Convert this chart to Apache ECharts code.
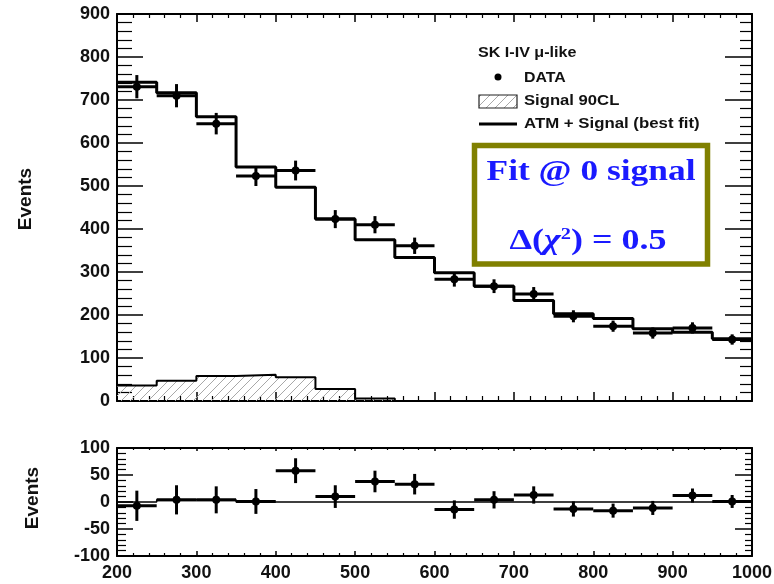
<!DOCTYPE html>
<html><head><meta charset="utf-8">
<script src="https://cdn.jsdelivr.net/npm/echarts@6/dist/echarts.min.js"></script>
<style>html,body{margin:0;padding:0;background:#fff}#c{width:774px;height:584px}</style>
</head><body><div id="c"></div>
<script>
// ---- data ----
const binEdges = [200,250,300,350,400,450,500,550,600,650,700,750,800,850,900,950,1000];
const dataEvents = [731,710,645,523,536,423,410,361,283,267,249,197,174,158,170,143];
const dataErrors = [27,27,25,23,23,21,20,19,17,16,16,14,13,13,13,12];
const bestFit = [741,717,661,544,497,423,375,334,298,267,234,203,192,168,160,145];
const signal90CL = [36,47,58,61,55,28,6,0,0,0,0,0,0,0,0,0];
const residual = [-7,4,4,1,58,10,38,33,-14,4,13,-13,-16,-11,12,1];
const residualErrors = [28,27,25,23,23,21,20,19,17,16,16,14,13,13,13,12];
const fitResidual = [0,4,4,0,0,0,0,0,0,0,0,0,0,0,0,0];
const xRange = [200,1000];
const topRange = [0,900];
const bottomRange = [-100,100];

const FONT = 'Liberation Sans, Arial, sans-serif';
const SERIF = 'Liberation Serif, Times New Roman, serif';

function stepData(vals){
  const d = vals.map((v,i)=>[binEdges[i], v]);
  d.push([binEdges[binEdges.length-1], vals[vals.length-1]]);
  return d;
}
function crossData(vals, errs){
  return vals.map((v,i)=>[binEdges[i], binEdges[i+1], v, errs[i]]);
}
function renderCross(params, api){
  const x0=api.value(0), x1=api.value(1), y=api.value(2), e=api.value(3);
  const xm=(x0+x1)/2;
  const pL=api.coord([x0,y]), pR=api.coord([x1,y]);
  const pT=api.coord([xm,y+e]), pB=api.coord([xm,y-e]);
  const st={stroke:'#000', lineWidth:3};
  return {type:'group', children:[
    {type:'line', shape:{x1:pL[0],y1:pL[1],x2:pR[0],y2:pR[1]}, style:st},
    {type:'line', shape:{x1:pT[0],y1:pT[1],x2:pB[0],y2:pB[1]}, style:st},
    {type:'circle', shape:{cx:(pL[0]+pR[0])/2, cy:pL[1], r:4}, style:{fill:'#000'}}
  ]};
}
function hatchCanvas(){
  const c=document.createElement('canvas'); c.width=9; c.height=9;
  const g=c.getContext('2d'); g.strokeStyle='#a8a8a8'; g.lineWidth=1;
  g.beginPath();
  g.moveTo(0,9); g.lineTo(9,0);
  g.moveTo(-3,3); g.lineTo(3,-3);
  g.moveTo(6,12); g.lineTo(12,6);
  g.stroke();
  return c;
}
const hatch = {image: hatchCanvas(), repeat:'repeat'};

function xAxisCfg(grid, pos, showLabels, tickLen, minorLen){
  return {type:'value', gridIndex:grid, position:pos, min:xRange[0], max:xRange[1], interval:100,
    axisLine:{show:true, onZero:false, lineStyle:{color:'#000', width:2}},
    axisTick:{show:true, inside:true, length:tickLen, lineStyle:{color:'#000', width:1.5}},
    minorTick:{show:true, splitNumber:5, length:minorLen, lineStyle:{color:'#000', width:1.2}},
    splitLine:{show:false},
    axisLabel:{show:showLabels, color:'#111', fontSize:18, fontWeight:'bold', fontFamily:FONT, margin:8,
      formatter:(v)=>String(v)}
  };
}
function yAxisCfg(grid, pos, range, interval, showLabels, tickLen, minorLen){
  return {type:'value', gridIndex:grid, position:pos, min:range[0], max:range[1], interval:interval,
    axisLine:{show:true, onZero:false, lineStyle:{color:'#000', width:2}},
    axisTick:{show:true, inside:true, length:tickLen, lineStyle:{color:'#000', width:1.5}},
    minorTick:{show:true, splitNumber:5, length:minorLen, lineStyle:{color:'#000', width:1.2}},
    splitLine:{show:false},
    axisLabel:{show:showLabels, color:'#111', fontSize:18, fontWeight:'bold', fontFamily:FONT, margin:7,
      formatter:(v)=>String(v)}
  };
}

const chart = echarts.init(document.getElementById('c'), null, {renderer:'canvas'});
chart.setOption({
  animation:false,
  backgroundColor:'#fff',
  grid:[
    {left:117, right:22, top:14, height:387, outerBoundsMode:'none', containLabel:false},
    {left:117, right:22, top:448, height:108, outerBoundsMode:'none', containLabel:false}
  ],
  xAxis:[
    xAxisCfg(0,'bottom',false,9,5),
    xAxisCfg(0,'top',false,8,4),
    xAxisCfg(1,'bottom',true,5,3),
    xAxisCfg(1,'top',false,3,2)
  ],
  yAxis:[
    yAxisCfg(0,'left',topRange,100,true,26,15),
    yAxisCfg(0,'right',topRange,100,false,27,12),
    yAxisCfg(1,'left',bottomRange,50,true,16,9),
    yAxisCfg(1,'right',bottomRange,50,false,17,7)
  ],
  series:[
    {name:'Signal 90CL', type:'line', xAxisIndex:0, yAxisIndex:0, step:'end', symbol:'none',
      data:stepData(signal90CL), lineStyle:{color:'#000', width:2},
      areaStyle:{color:hatch, opacity:1}, z:2},
    {name:'ATM + Signal (best fit)', type:'line', xAxisIndex:0, yAxisIndex:0, step:'end', symbol:'none',
      data:stepData(bestFit), lineStyle:{color:'#000', width:3}, z:3},
    {name:'DATA', type:'custom', xAxisIndex:0, yAxisIndex:0, renderItem:renderCross,
      encode:{x:[0,1], y:2}, data:crossData(dataEvents, dataErrors), z:4},
    {name:'fit residual', type:'line', xAxisIndex:2, yAxisIndex:2, step:'end', symbol:'none',
      data:stepData(fitResidual), lineStyle:{color:'#000', width:1.5},
      areaStyle:{color:'#c8c8c8', opacity:1}, z:2},
    {name:'DATA residual', type:'custom', xAxisIndex:2, yAxisIndex:2, renderItem:renderCross,
      encode:{x:[0,1], y:2}, data:crossData(residual, residualErrors), z:4}
  ],
  graphic:[
    {type:'text', x:26, y:199, rotation:Math.PI/2, style:{text:'Events', x:0, y:0, textAlign:'center', textVerticalAlign:'middle', font:'bold 19px '+FONT, fill:'#111'}},
    {type:'text', x:33, y:498, rotation:Math.PI/2, style:{text:'Events', x:0, y:0, textAlign:'center', textVerticalAlign:'middle', font:'bold 19px '+FONT, fill:'#111'}},
    {type:'text', x:478, y:53, scaleX:1.15, style:{text:'SK I-IV \u03bc-like', x:0, y:0, textAlign:'left', textVerticalAlign:'middle', font:'bold 14px '+FONT, fill:'#111'}},
    {type:'circle', shape:{cx:498, cy:77, r:3.5}, style:{fill:'#000'}},
    {type:'text', x:524, y:78, scaleX:1.06, style:{text:'DATA', x:0, y:0, textAlign:'left', textVerticalAlign:'middle', font:'bold 15px '+FONT, fill:'#111'}},
    {type:'rect', shape:{x:479, y:95, width:38, height:13}, style:{fill:hatch, stroke:'#222', lineWidth:1.2}},
    {type:'text', x:524, y:101, scaleX:1.11, style:{text:'Signal 90CL', x:0, y:0, textAlign:'left', textVerticalAlign:'middle', font:'bold 15px '+FONT, fill:'#111'}},
    {type:'line', shape:{x1:479, y1:124, x2:517, y2:124}, style:{stroke:'#000', lineWidth:3}},
    {type:'text', x:524, y:124, scaleX:1.12, style:{text:'ATM + Signal (best fit)', x:0, y:0, textAlign:'left', textVerticalAlign:'middle', font:'bold 15px '+FONT, fill:'#111'}},
    {type:'rect', shape:{x:474.5, y:145.5, width:233, height:118.5}, style:{fill:'#fff', stroke:'#808000', lineWidth:5.5}},
    {type:'text', x:591, y:172, scaleX:1.18, style:{text:'Fit @ 0 signal', x:0, y:0, textAlign:'center', textVerticalAlign:'middle', font:'bold 30px '+SERIF, fill:'#1a1aff'}},
    {type:'text', x:588, y:241, scaleX:1.2, style:{
      text:'{n|\u0394(}{i|\u03c7}{s|2}{n|) = 0.5}', x:0, y:0, textAlign:'center', textVerticalAlign:'middle',
      rich:{
        n:{font:'bold 30px '+SERIF, fill:'#1a1aff', color:'#1a1aff'},
        i:{font:'italic bold 30px '+SERIF, fill:'#1a1aff', color:'#1a1aff'},
        s:{font:'bold 17px '+SERIF, fill:'#1a1aff', color:'#1a1aff', verticalAlign:'top', padding:[0,0,12,0]}
      }}}
  ]
});
</script>
</body></html>
